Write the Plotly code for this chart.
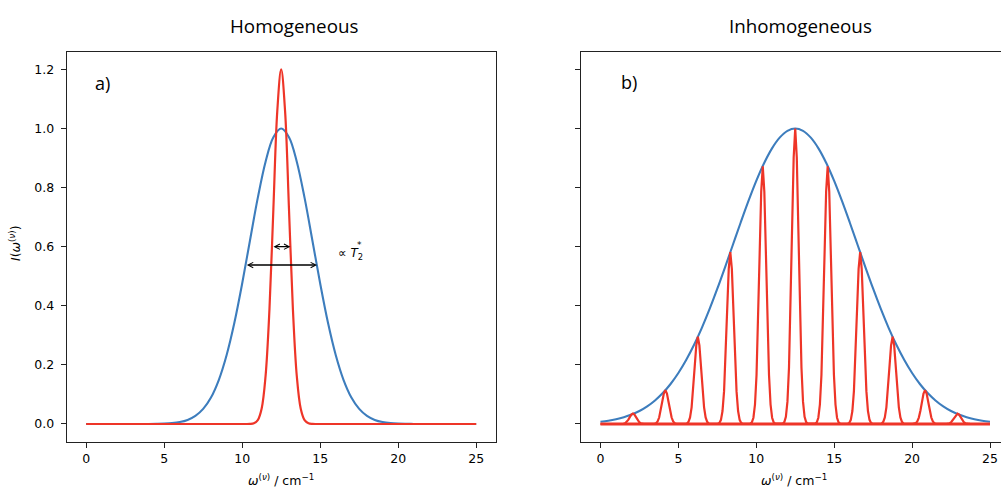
import plotly.graph_objects as go

# ---------------- data ----------------
X_GRID = [0, 0.5, 1, 1.5, 2, 2.5, 3, 3.5, 4, 4.5, 5, 5.5, 6, 6.5, 7, 7.5, 8, 8.5, 9, 9.5,
          10, 10.5, 11, 11.5, 12, 12.5, 13, 13.5, 14, 14.5, 15, 15.5, 16, 16.5, 17, 17.5,
          18, 18.5, 19, 19.5, 20, 20.5, 21, 21.5, 22, 22.5, 23, 23.5, 24, 24.5, 25]

# a) homogeneous: broad blue envelope
BLUE_A = [0, 0, 0, 0, 0, 0, 0, 0, 0.0002, 0.0005, 0.0012, 0.0029, 0.0065, 0.0137, 0.0273,
          0.051, 0.0897, 0.1488, 0.2327, 0.3425, 0.4753, 0.6211, 0.7651, 0.8878, 0.9707,
          1.0,
          0.9707, 0.8878, 0.7651, 0.6211, 0.4753, 0.3425, 0.2327, 0.1488, 0.0897, 0.051,
          0.0273, 0.0137, 0.0065, 0.0029, 0.0012, 0.0005, 0.0002, 0, 0, 0, 0, 0, 0, 0, 0]

# a) homogeneous: narrow red line
RED_A_X = [0, 9.5, 9.75, 10, 10.25, 10.5, 10.75, 11, 11.25, 11.5, 11.75, 12, 12.25, 12.5,
           12.75, 13, 13.25, 13.5, 13.75, 14, 14.25, 14.5, 14.75, 15, 15.25, 15.5, 25]
RED_A_Y = [0, 0, 0, 0, 0, 0.0004, 0.0026, 0.0133, 0.0527, 0.1624, 0.3895, 0.7278, 1.059, 1.2,
           1.059, 0.7278, 0.3895, 0.1624, 0.0527, 0.0133, 0.0026, 0.0004, 0, 0, 0, 0, 0]

# b) inhomogeneous: broad blue envelope
BLUE_B = [0.0076, 0.0111, 0.016, 0.0228, 0.0319, 0.0439, 0.0596, 0.0796, 0.1046, 0.1353,
          0.1724, 0.2163, 0.2671, 0.3247, 0.3886, 0.4578, 0.5311, 0.6065, 0.6819, 0.7548,
          0.8226, 0.8825, 0.9321, 0.9692, 0.9922,
          1.0,
          0.9922, 0.9692, 0.9321, 0.8825, 0.8226, 0.7548, 0.6819, 0.6065, 0.5311, 0.4578,
          0.3886, 0.3247, 0.2671, 0.2163, 0.1724, 0.1353, 0.1046, 0.0796, 0.0596, 0.0439,
          0.0319, 0.0228, 0.016, 0.0111, 0.0076]

# b) inhomogeneous: individual narrow red lines
PEAK_CENTERS = [2.083, 4.167, 6.25, 8.333, 10.417, 12.5, 14.583, 16.667, 18.75, 20.833, 22.917]
PEAK_HEIGHTS = [0.035, 0.114, 0.295, 0.582, 0.872, 1.0, 0.872, 0.582, 0.295, 0.114, 0.035]
PEAK_OFFSETS = [-0.8, -0.7, -0.6, -0.5, -0.4, -0.3, -0.2, -0.1, 0, 0.1, 0.2, 0.3, 0.4, 0.5, 0.6, 0.7, 0.8]
PEAK_SHAPE = [0.0014, 0.0063, 0.0242, 0.0756, 0.191, 0.395, 0.661, 0.902, 1.0,
              0.902, 0.661, 0.395, 0.191, 0.0756, 0.0242, 0.0063, 0.0014]

X_TICKS = [0, 5, 10, 15, 20, 25]
Y_TICKS = [0.0, 0.2, 0.4, 0.6, 0.8, 1.0, 1.2]
Y_TICK_TEXT = ["0.0", "0.2", "0.4", "0.6", "0.8", "1.0", "1.2"]

# FWHM arrows (x_start, x_end, y)
ARROW_BROAD = (10.2, 14.8, 0.538)
ARROW_NARROW = (11.91, 13.09, 0.6)

# ---------------- styling ----------------
BLUE = "#3d7dbd"
RED = "#ee3528"
TICK_FONT = dict(family="DejaVu Sans", size=12.5, color="#000")
TITLE_FONT = dict(family="Open Sans", size=18.8, color="#000")

# build right red trace from the peak lists
red_b_x = [X_GRID[0]]
red_b_y = [0]
for c, h in zip(PEAK_CENTERS, PEAK_HEIGHTS):
    for o, s in zip(PEAK_OFFSETS, PEAK_SHAPE):
        red_b_x.append(c + o)
        red_b_y.append(h * s)
red_b_x.append(X_GRID[-1])
red_b_y.append(0)

fig = go.Figure()
fig.add_trace(go.Scatter(x=X_GRID, y=BLUE_A, mode="lines", line=dict(color=BLUE, width=2.1, shape="spline"),
                         xaxis="x", yaxis="y", showlegend=False, hoverinfo="skip"))
fig.add_trace(go.Scatter(x=RED_A_X, y=RED_A_Y, mode="lines", line=dict(color=RED, width=2.2, shape="spline"),
                         xaxis="x", yaxis="y", showlegend=False, hoverinfo="skip"))
fig.add_trace(go.Scatter(x=X_GRID, y=BLUE_B, mode="lines", line=dict(color=BLUE, width=2.1, shape="spline"),
                         xaxis="x2", yaxis="y2", showlegend=False, hoverinfo="skip"))
fig.add_trace(go.Scatter(x=[X_GRID[0], X_GRID[-1]], y=[0, 0], mode="lines", line=dict(color=RED, width=3.2),
                         xaxis="x2", yaxis="y2", showlegend=False, hoverinfo="skip"))
fig.add_trace(go.Scatter(x=red_b_x, y=red_b_y, mode="lines", line=dict(color=RED, width=2.2),
                         xaxis="x2", yaxis="y2", showlegend=False, hoverinfo="skip"))

axis_common = dict(showgrid=False, zeroline=False, ticks="outside", ticklen=5, tickwidth=1,
                   tickcolor="#222", showline=True, linecolor="#222", linewidth=1,
                   tickfont=TICK_FONT)

Y_DOMAIN = [0.0967, 0.8943]
fig.update_layout(
    width=1001, height=489,
    margin=dict(l=0, r=0, t=0, b=0),
    paper_bgcolor="white", plot_bgcolor="white",
    xaxis=dict(domain=[0.0666, 0.4952], range=[-1.25, 26.25], tickvals=X_TICKS,
               anchor="y", mirror=True, **axis_common),
    yaxis=dict(domain=Y_DOMAIN, range=[-0.06, 1.26], tickvals=Y_TICKS, ticktext=Y_TICK_TEXT,
               anchor="x", mirror=True, ticklabelstandoff=4, **axis_common),
    xaxis2=dict(domain=[0.5804, 1.0], range=[-1.25, 25.706], tickvals=X_TICKS,
                anchor="y2", mirror=True, **axis_common),
    yaxis2=dict(domain=Y_DOMAIN, range=[-0.06, 1.26], tickvals=Y_TICKS, showticklabels=False,
                anchor="x2", mirror=False, **axis_common),
)

ann = []
# titles
ann.append(dict(text="Homogeneous", x=0.2281, y=0.9468, xref="paper", yref="paper",
                xanchor="left", yanchor="middle", showarrow=False, font=TITLE_FONT))
ann.append(dict(text="Inhomogeneous", x=0.726, y=0.9468, xref="paper", yref="paper",
                xanchor="left", yanchor="middle", showarrow=False, font=TITLE_FONT))
# panel labels
ann.append(dict(text="a)", x=0.1024, y=0.830, xref="paper", yref="paper",
                xanchor="center", yanchor="middle", showarrow=False,
                font=dict(family="Open Sans", size=18, color="#000")))
ann.append(dict(text="b)", x=0.6284, y=0.832, xref="paper", yref="paper",
                xanchor="center", yanchor="middle", showarrow=False,
                font=dict(family="Open Sans", size=18, color="#000")))
# axis labels
XLAB = "<i>ω</i><sup>(<i>ν</i>)</sup> / cm<sup>−1</sup>"
ann.append(dict(text=XLAB, x=0.2805, y=0.0184, xref="paper", yref="paper",
                xanchor="center", yanchor="middle", showarrow=False, font=TICK_FONT))
ann.append(dict(text=XLAB, x=0.7935, y=0.0184, xref="paper", yref="paper",
                xanchor="center", yanchor="middle", showarrow=False, font=TICK_FONT))
ann.append(dict(text="<i>I</i>(<i>ω</i><sup>(<i>ν</i>)</sup>)", x=0.015, y=0.503,
                xref="paper", yref="paper", textangle=-90, xanchor="center", yanchor="middle",
                showarrow=False, font=TICK_FONT))
# arrows
for (xa, xb, ya) in (ARROW_BROAD, ARROW_NARROW):
    ann.append(dict(x=xb, y=ya, ax=xa, ay=ya, xref="x", yref="y", axref="x", ayref="y",
                    text="", showarrow=True, arrowhead=5, startarrowhead=5, arrowside="end+start",
                    arrowsize=0.8, startarrowsize=0.8, arrowwidth=1.3, arrowcolor="#000",
                    standoff=0, startstandoff=0))
# proportional-to T2* label
ann.append(dict(text="∝ <i>T</i><sub>2</sub>", x=16.0, y=0.575, xref="x", yref="y",
                xanchor="left", yanchor="middle", showarrow=False,
                font=dict(family="DejaVu Sans", size=12, color="#000")))
ann.append(dict(text="*", x=17.55, y=0.607, xref="x", yref="y",
                xanchor="center", yanchor="middle", showarrow=False,
                font=dict(family="DejaVu Sans", size=9, color="#000")))
fig.update_layout(annotations=ann)

fig.write_html("out.html")
